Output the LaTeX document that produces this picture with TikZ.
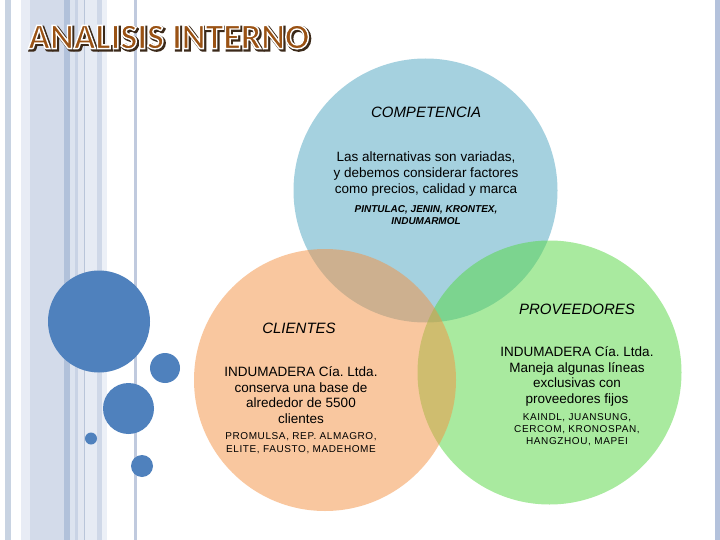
\documentclass[tikz,border=0pt]{standalone}
\usepackage{fontspec}
\setmainfont{Liberation Sans}
\newfontfamily\titlefont{Carlito}
\newfontfamily\spacedfont[LetterSpace=6]{Liberation Sans}
\frenchspacing
\definecolor{stA}{HTML}{C8D3E2}
\definecolor{stB}{HTML}{E8ECF5}
\definecolor{stC}{HTML}{D3DBEA}
\definecolor{stD}{HTML}{B1C1DA}
\definecolor{stE}{HTML}{DCE3EF}
\definecolor{stF}{HTML}{C9D3E5}
\definecolor{stG}{HTML}{E2E7F1}
\definecolor{stH}{HTML}{B9C5D9}
\definecolor{stI}{HTML}{E6EBF4}
\definecolor{stJ}{HTML}{CFD8E8}
\definecolor{stK}{HTML}{ECF0F7}
\definecolor{stL}{HTML}{C0CADE}
\definecolor{stR}{HTML}{B4C2DC}
\definecolor{dotblue}{HTML}{4F81BD}
\definecolor{vblue}{RGB}{77,165,193}
\definecolor{vorange}{RGB}{245,145,65}
\definecolor{vgreen}{RGB}{85,215,65}
\definecolor{titlebrown}{HTML}{9A5214}
\definecolor{titleshadow}{HTML}{3A2A1A}
\newcommand{\strokedtext}[3]{\special{pdf:literal direct q #1 RG #2 w 2 Tr}#3\special{pdf:literal direct 0 Tr Q}}
\tikzset{
  stripe/.style={fill=#1, draw=none},
  dot/.style={circle, fill=dotblue, draw=none, inner sep=0pt, minimum size=#1},
  venn/.style={circle, fill=#1, fill opacity=0.5, draw=none, inner sep=0pt},
  head/.style={font=\fontsize{15}{18}\selectfont\itshape, inner sep=0pt},
  body/.style={font=\fontsize{13.5}{15.6}\selectfont, align=center, inner sep=0pt},
  tiny/.style={font=\fontsize{10.5}{12.5}\selectfont, align=center, inner sep=0pt},
  titletext/.style={font=\titlefont\bfseries\fontsize{36}{40}\selectfont, inner sep=0pt, anchor=west},
}
\begin{document}
\begin{tikzpicture}[x=1pt, y=-1pt]
\useasboundingbox (0,0) rectangle (720,540);
\fill[white] (0,0) rectangle (720,540);
% left stripes
\fill[stripe=stA] (5,0) rectangle (11,540);
\fill[stripe=stB] (21,0) rectangle (30,540);
\fill[stripe=stC] (30,0) rectangle (64,540);
\fill[stripe=stD] (64,0) rectangle (70,540);
\fill[stripe=stE] (70,0) rectangle (75,540);
\fill[stripe=stF] (75,0) rectangle (78,540);
\fill[stripe=stG] (78,0) rectangle (84,540);
\fill[stripe=stH] (84,0) rectangle (85,540);
\fill[stripe=stI] (85,0) rectangle (97,540);
\fill[stripe=stJ] (97,0) rectangle (102,540);
\fill[stripe=stK] (102,0) rectangle (107,540);
\fill[stripe=stL] (133.5,0) rectangle (137,540);
\fill[stripe=stR] (715,0) rectangle (720,540);
% decorative dots
\node[dot=102pt] (d1) at (99,321.5) {};
\node[dot=30pt] (d2) at (165,368) {};
\node[dot=51pt] (d3) at (128.5,408.5) {};
\node[dot=12pt] (d4) at (91,438.5) {};
\node[dot=22pt] (d5) at (142,466) {};
% title
\node[titletext, text=titleshadow] (titleshadow) at (29.6,38.6) {\strokedtext{0.23 0.16 0.10}{2.6}{ANALISIS INTERNO}};
\node[titletext, text=titlebrown] (title) at (28,37) {\strokedtext{1 1 1}{1.4}{ANALISIS INTERNO}};
% venn circles
\node[venn=vblue, minimum size=264pt] (comp) at (425.5,190.5) {};
\node[venn=vgreen, minimum size=264pt] (prov) at (549.5,372.5) {};
\node[venn=vorange, minimum size=262pt] (cli) at (325,380) {};
% texts
\node[head] (compT) at (426,112) {COMPETENCIA};
\node[body] (compB) at (426,174) {Las alternativas son variadas,\\y debemos considerar factores\\como precios, calidad y marca};
\node[tiny, font=\fontsize{10}{12}\selectfont\bfseries\itshape] (compS) at (426,215) {PINTULAC, JENIN, KRONTEX,\\INDUMARMOL};
\node[head] (cliT) at (299,328) {CLIENTES};
\node[body] (cliB) at (301,395) {INDUMADERA Cía. Ltda.\\conserva una base de\\alrededor de 5500\\clientes};
\node[tiny, font=\spacedfont\fontsize{10}{13}\selectfont] (cliS) at (301,443.5) {PROMULSA, REP. ALMAGRO,\\ELITE, FAUSTO, MADEHOME};
\node[head] (provT) at (577,309) {PROVEEDORES};
\node[body] (provB) at (577,376.5) {INDUMADERA Cía. Ltda.\\Maneja algunas líneas\\exclusivas con\\proveedores fijos};
\node[tiny, font=\spacedfont\fontsize{10}{12}\selectfont] (provS) at (577,430) {KAINDL, JUANSUNG,\\CERCOM, KRONOSPAN,\\HANGZHOU, MAPEI};
\end{tikzpicture}
\end{document}
